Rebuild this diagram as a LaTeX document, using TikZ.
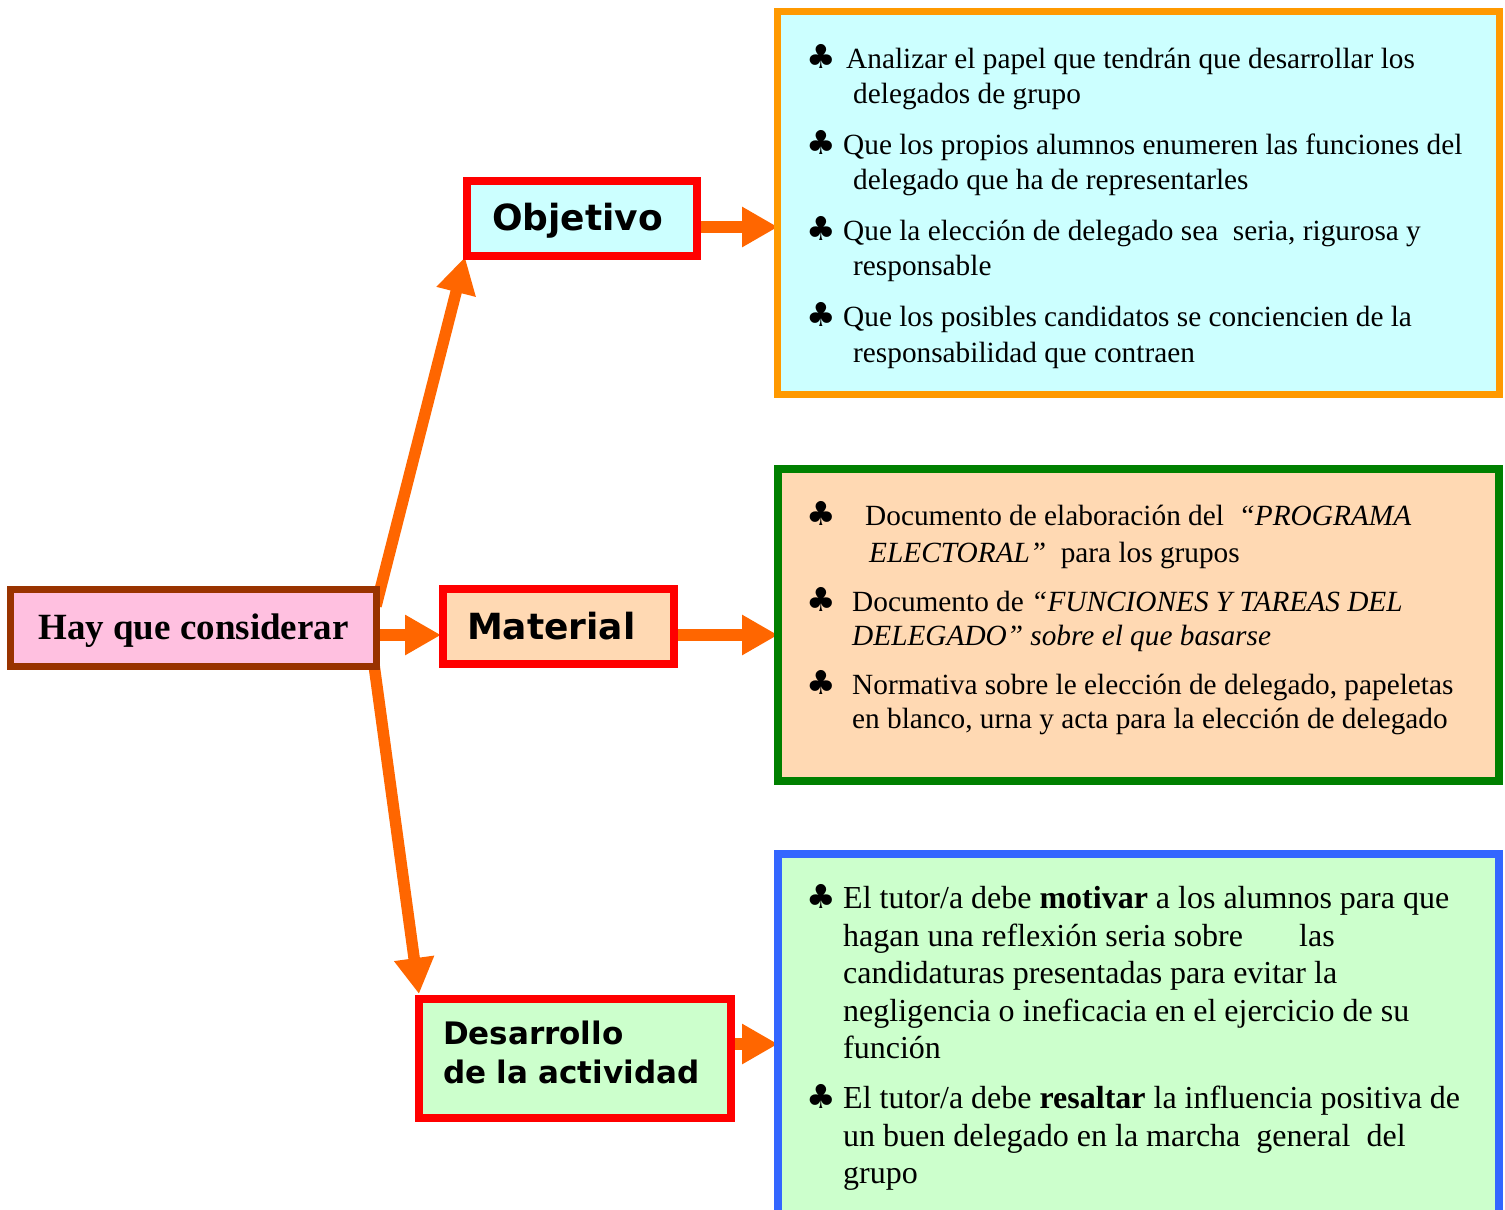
\documentclass[tikz,border=0pt]{standalone}
\usepackage{fontspec}
\setmainfont{Liberation Serif}
\newfontfamily\lblfont{DejaVu Sans}
\newfontfamily\symfont{DejaVu Sans}
\usetikzlibrary{arrows.meta,backgrounds}
\definecolor{arrowc}{HTML}{FF6600}
\definecolor{redb}{HTML}{FF0000}
\definecolor{brownb}{HTML}{993300}
\definecolor{pinkf}{HTML}{FFC0E0}
\definecolor{cyanf}{HTML}{CCFFFF}
\definecolor{peachf}{HTML}{FFD9B3}
\definecolor{greenf}{HTML}{CCFFCC}
\definecolor{orangeb}{HTML}{FF9900}
\definecolor{greenb}{HTML}{008000}
\definecolor{blueb}{HTML}{3366FF}
\tikzset{
  x=1pt, y=-1pt,
  arr/.style={draw=arrowc, line width=11.5pt, -{Triangle[length=36pt,width=38pt]}},
  smallbox/.style={draw=redb, line width=8pt, rectangle, align=left, inner ysep=0pt,
     font=\lblfont\bfseries\fontsize{36}{40}\selectfont},
  bigbox/.style={rectangle, inner sep=0pt, line width=8pt},
  ln/.style={anchor=base west, inner sep=0pt, font=\fontsize{29.3}{34}\selectfont},
  lnb/.style={anchor=base west, inner sep=0pt, font=\fontsize{32}{36}\selectfont},
  club/.style={anchor=base west, inner sep=0pt, font=\symfont\fontsize{33}{34}\selectfont},
}
\begin{document}
\begin{tikzpicture}
\useasboundingbox (0,0) rectangle (1505,1210);
\clip (0,0) rectangle (1505,1210);

% big boxes
\node[bigbox, draw=orangeb, line width=7pt, fill=cyanf, minimum width=722pt, minimum height=383pt] (box1) at (1138.5,203) {};
\node[bigbox, draw=greenb, fill=peachf, minimum width=721pt, minimum height=312pt] (box2) at (1138.5,625) {};
\node[bigbox, draw=blueb, fill=greenf, minimum width=721pt, minimum height=392pt] (box3) at (1138.5,1050) {};

% small boxes
\node[draw=brownb, line width=7pt, fill=pinkf, rectangle, inner sep=0pt,
      minimum width=366pt, minimum height=77pt, text depth=2pt,
      font=\bfseries\fontsize{37}{40}\selectfont] (hay) at (193.5,628) {Hay que considerar};
\node[smallbox, fill=cyanf, inner xsep=25pt, text width=180pt, minimum width=230pt, minimum height=75pt, text depth=4pt] (obj) at (582,218.5) {Objetivo};
\node[smallbox, fill=peachf, inner xsep=24pt, text width=183pt, minimum width=231pt, minimum height=75pt] (mat) at (558.5,626.5) {Material};
\node[smallbox, fill=greenf, inner xsep=24pt, text width=264pt, minimum width=312pt, minimum height=119pt,
      text depth=52pt, font=\lblfont\bfseries\fontsize{31}{39}\selectfont] (des) at (575,1058.5) {Desarrollo\\de la actividad};

% connectors (under the boxes)
\begin{pgfonlayer}{background}
\coordinate (o1) at ([yshift=-8.5pt]obj.east);
\coordinate (m1) at ([yshift=-8.5pt]mat.east);
\coordinate (d1) at ([yshift=14.5pt]des.east);
\coordinate (h1) at ([yshift=-7pt]hay.east);
\coordinate (o2) at (o1 -| box1.west);
\coordinate (m2) at (m1 -| box2.west);
\coordinate (d2) at (d1 -| box3.west);
\coordinate (h2) at (h1 -| mat.west);
\draw[arr] ([xshift=-4pt,yshift=-20pt]hay.north east) -- ([xshift=2pt,yshift=3pt]obj.south west);
\draw[arr] (h1) -- ([xshift=2pt]h2);
\draw[arr] ([xshift=-8pt,yshift=20pt]hay.south east) -- ([xshift=4pt,yshift=1pt]des.north west);
\draw[arr] (o1) -- ([xshift=4pt]o2);
\draw[arr] (m1) -- ([xshift=4pt]m2);
\draw[arr] (d1) -- ([xshift=4pt]d2);
\end{pgfonlayer}

% box 1 text
\node[club] (c11) at (806,68) {♣};
\node[ln] (t11a) at (846,68) {Analizar el papel que tendrán que desarrollar los};
\node[ln] (t11b) at (853,103) {delegados de grupo};
\node[club] (c12) at (806,154) {♣};
\node[ln] (t12a) at (843,154) {Que los propios alumnos enumeren las funciones del};
\node[ln] (t12b) at (853,189) {delegado que ha de representarles};
\node[club] (c13) at (806,240) {♣};
\node[ln] (t13a) at (843,240) {Que la elección de delegado sea\ \ seria, rigurosa y};
\node[ln] (t13b) at (853,275) {responsable};
\node[club] (c14) at (806,326) {♣};
\node[ln] (t14a) at (843,326) {Que los posibles candidatos se conciencien de la};
\node[ln] (t14b) at (853,362) {responsabilidad que contraen};

% box 2 text
\node[club] (c21) at (806,525) {♣};
\node[ln] (t21a) at (865,525) {Documento de elaboración del\ \ \textit{“PROGRAMA}};
\node[ln] (t21b) at (869,562) {\textit{ELECTORAL”}\ \ para los grupos};
\node[club] (c22) at (806,611) {♣};
\node[ln] (t22a) at (852,611) {Documento de \textit{“FUNCIONES Y TAREAS DEL}};
\node[ln] (t22b) at (852,645) {\textit{DELEGADO” sobre el que basarse}};
\node[club] (c23) at (806,694) {♣};
\node[ln] (t23a) at (852,694) {Normativa sobre le elección de delegado, papeletas};
\node[ln] (t23b) at (852,728) {en blanco, urna y acta para la elección de delegado};

% box 3 text
\node[club] (c31) at (806,908) {♣};
\node[lnb] (t31a) at (843,908) {El tutor/a debe \textbf{motivar} a los alumnos para que};
\node[lnb] (t31b) at (843,946) {hagan una reflexión seria sobre};
\node[lnb] (t31c) at (1299,946) {las};
\node[lnb] (t31d) at (843,983) {candidaturas presentadas para evitar la};
\node[lnb] (t31e) at (843,1021) {negligencia o ineficacia en el ejercicio de su};
\node[lnb] (t31f) at (843,1058) {función};
\node[club] (c32) at (806,1108) {♣};
\node[lnb] (t32a) at (843,1108) {El tutor/a debe \textbf{resaltar} la influencia positiva de};
\node[lnb] (t32b) at (843,1146) {un buen delegado en la marcha\ \ general\ \ del};
\node[lnb] (t32c) at (843,1183) {grupo};
\end{tikzpicture}
\end{document}
